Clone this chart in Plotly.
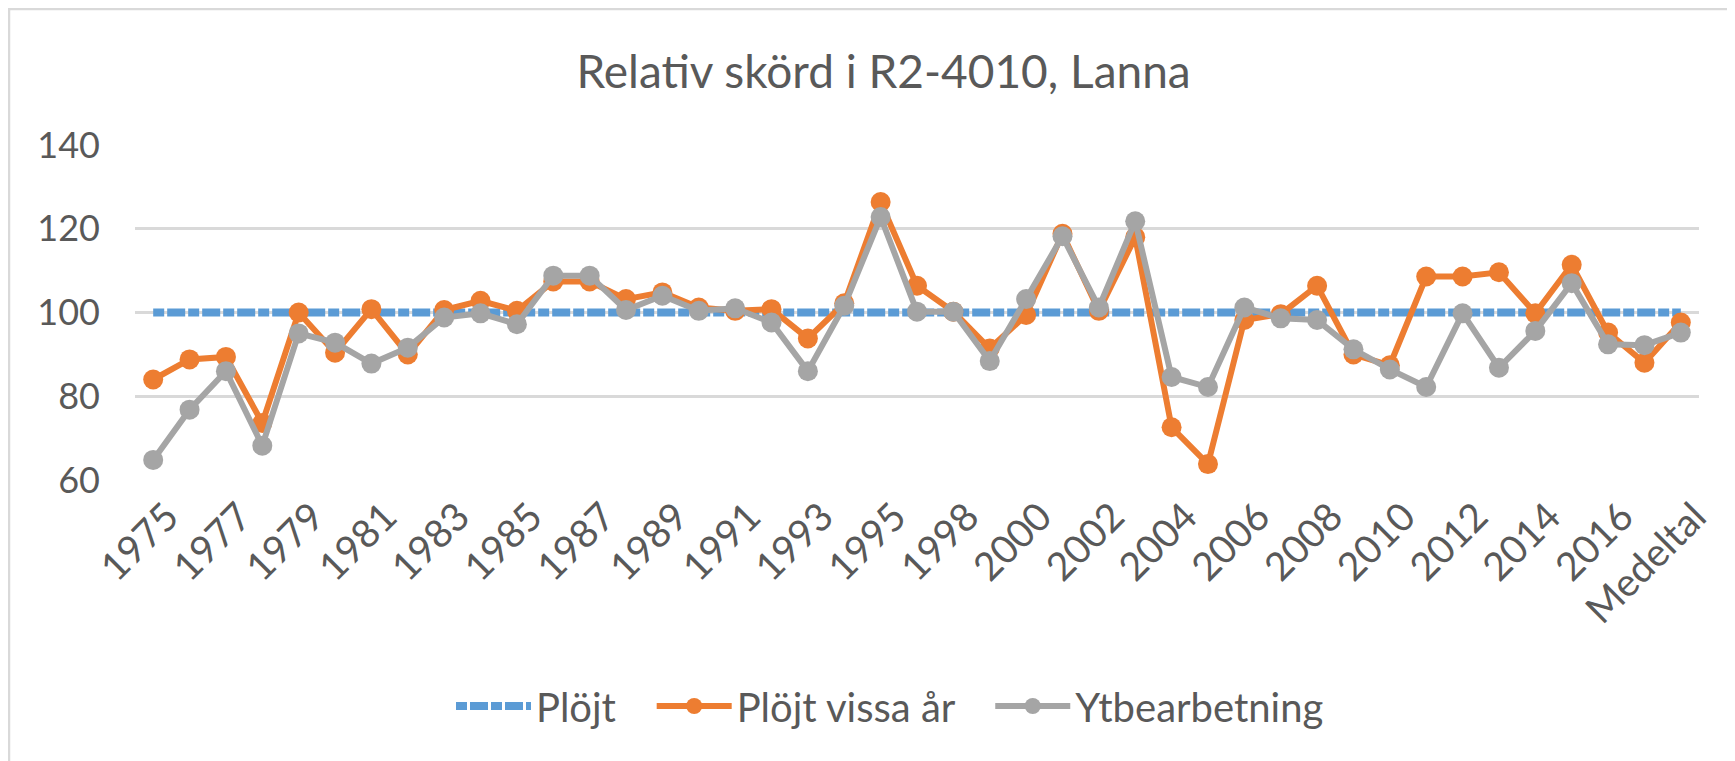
import plotly.graph_objects as go

categories = [str(y) for y in range(1975, 1996)] + ["1997"] + [str(y) for y in range(1998, 2018)] + ["Medeltal"]

plojt = [100] * 43

plojt_vissa_ar = [
    84.0, 88.8, 89.4, 73.6, 100.0, 90.4, 100.8, 90.0, 100.6, 102.8,
    100.4, 107.4, 107.4, 103.2, 104.8, 101.2, 100.4, 100.8, 93.8, 102.2,
    126.4, 106.4, 100.2, 91.4, 99.4, 118.8, 100.4, 118.0, 72.6, 63.8,
    98.2, 99.6, 106.4, 90.0, 87.4, 108.6, 108.6, 109.6, 99.8, 111.4,
    95.2, 88.0, 97.6,
]

ytbearbetning = [
    64.8, 76.8, 86.0, 68.2, 95.0, 92.8, 87.8, 91.6, 98.8, 99.8,
    97.2, 108.8, 108.8, 100.6, 104.0, 100.4, 101.0, 97.6, 86.0, 101.6,
    122.8, 100.2, 100.2, 88.4, 103.2, 118.2, 101.2, 121.8, 84.6, 82.2,
    101.2, 98.6, 98.2, 91.2, 86.4, 82.2, 99.8, 86.8, 95.6, 107.0,
    92.4, 92.2, 95.2,
]

tick_idx = list(range(0, 43, 2))
tick_vals = [categories[i] for i in tick_idx]

FONT = "Lato"
TXT = "#595959"
PAD = "\u00a0" * 3

# figure sits at an 8px body offset inside the page
W, H = 1727, 753
L, R, T, B = 127, 36, 137, 281
PW, PH = W - L - R, H - T - B

fig = go.Figure()
fig.add_trace(go.Scatter(
    x=categories, y=plojt, name="Plöjt" + PAD, mode="lines",
    line=dict(color="#5B9BD5", width=8, dash="11px,3px,18px,3px"),
))
fig.add_trace(go.Scatter(
    x=categories, y=plojt_vissa_ar, name="Plöjt vissa år" + PAD, mode="lines+markers",
    line=dict(color="#ED7D31", width=6),
    marker=dict(color="#ED7D31", size=20, symbol="circle"),
))
fig.add_trace(go.Scatter(
    x=categories, y=ytbearbetning, name="Ytbearbetning", mode="lines+markers",
    line=dict(color="#A5A5A5", width=6),
    marker=dict(color="#A5A5A5", size=20, symbol="circle"),
))

fig.update_layout(
    width=W, height=H,
    margin=dict(l=L, r=R, t=T, b=B),
    paper_bgcolor="white", plot_bgcolor="white",
    font=dict(family=FONT, color=TXT, size=36),
    title=dict(text="Relativ skörd i R2-4010, Lanna", x=0.507, xanchor="center",
               y=1 - 64 / H, yanchor="middle",
               font=dict(family=FONT, color=TXT, size=46)),
    showlegend=True,
    legend=dict(orientation="h", x=(882 - L) / PW, xanchor="center",
                y=(472 - 698) / PH, yanchor="middle",
                font=dict(family=FONT, color=TXT, size=40), itemwidth=75,
                bgcolor="rgba(0,0,0,0)"),
    xaxis=dict(
        type="category", range=[-0.5, 42.5], showgrid=False,
        tickmode="array", tickvals=tick_vals, ticktext=tick_vals,
        tickangle=-45, ticks="", showline=False, zeroline=False,
        tickfont=dict(family=FONT, color=TXT, size=39),
        ticklabelstandoff=5, ticklabelshift=14,
    ),
    yaxis=dict(
        range=[60, 140], tickvals=[60, 80, 100, 120, 140],
        showgrid=True, gridcolor="#D9D9D9", gridwidth=2.5,
        zeroline=False, showline=False, ticks="",
        tickfont=dict(family=FONT, color=TXT, size=36),
        ticklabelstandoff=34,
    ),
    shapes=[dict(type="rect", xref="paper", yref="paper",
                 x0=(1 - L) / PW, x1=1.2, y0=-1.2, y1=(H - B - 1) / PH,
                 line=dict(color="#D9D9D9", width=2.5), layer="below")],
)

fig.write_html("out.html")
